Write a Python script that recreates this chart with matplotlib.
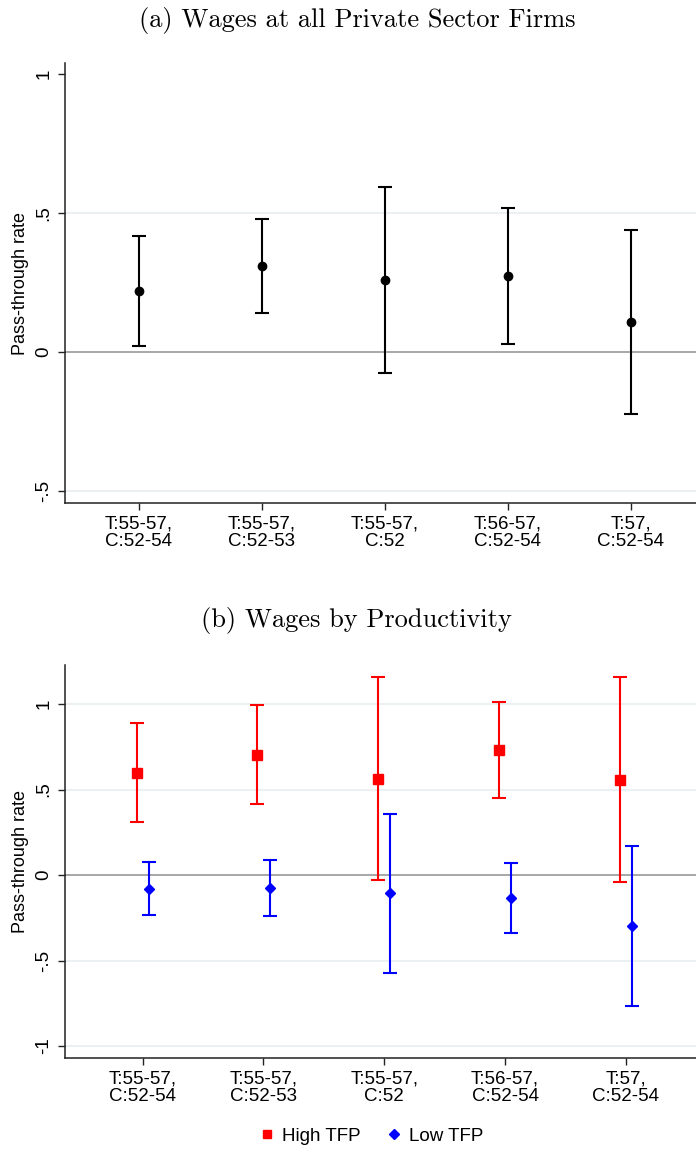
import numpy as np
import matplotlib
matplotlib.use("Agg")
import matplotlib.pyplot as plt
from matplotlib.lines import Line2D

# Category labels (treatment / control years)
categories = ["T:55-57,\nC:52-54", "T:55-57,\nC:52-53", "T:55-57,\nC:52",
              "T:56-57,\nC:52-54", "T:57,\nC:52-54"]

# Panel (a): all private sector firms
all_est = [0.219, 0.309, 0.259, 0.273, 0.108]
all_lo = [0.022, 0.140, -0.074, 0.030, -0.222]
all_hi = [0.417, 0.478, 0.595, 0.518, 0.439]

# Panel (b): by productivity
high_est = [0.596, 0.702, 0.563, 0.733, 0.557]
high_lo = [0.310, 0.415, -0.029, 0.452, -0.039]
high_hi = [0.889, 0.993, 1.160, 1.013, 1.160]

low_est = [-0.080, -0.078, -0.107, -0.136, -0.298]
low_lo = [-0.234, -0.240, -0.573, -0.337, -0.764]
low_hi = [0.076, 0.086, 0.358, 0.068, 0.168]

yticks_a = [-0.5, 0, 0.5, 1]
ylabels_a = ["-.5", "0", ".5", "1"]
yticks_b = [-1, -0.5, 0, 0.5, 1]
ylabels_b = ["-1", "-.5", "0", ".5", "1"]

plt.rcParams["font.family"] = ["Liberation Sans", "DejaVu Sans"]

fig = plt.figure(figsize=(6.96, 11.49), dpi=100)
ax_a = fig.add_axes([0.0934, 0.562, 0.9066, 0.3832])
ax_b = fig.add_axes([0.0934, 0.0792, 0.9066, 0.342])

grid_col = "#e8eff1"
x = np.arange(1, len(categories) + 1)
fs = 13.5


def style_axis(ax, ticks, labels, grid_at):
    for s in ["top", "right"]:
        ax.spines[s].set_visible(False)
    for s in ["left", "bottom"]:
        ax.spines[s].set_linewidth(1.1)
        ax.spines[s].set_color("#222222")
    for g in grid_at:
        ax.axhline(g, color=grid_col, lw=1.2, zorder=0)
    ax.axhline(0, color="#a0a0a0", lw=1.3, zorder=1)
    ax.set_yticks(ticks)
    ax.set_yticklabels(labels, rotation=90, va="center")
    ax.set_xticks(x)
    ax.set_xticklabels(categories, fontsize=fs, linespacing=1.05)
    ax.tick_params(axis="both", direction="out", length=5, width=1, color="#222222")
    ax.tick_params(axis="y", labelsize=fs, pad=4)
    ax.tick_params(axis="x", pad=4)
    ax.set_ylabel("Pass-through rate", fontsize=13, labelpad=5)


# panel (a)
err_a = [np.array(all_est) - np.array(all_lo), np.array(all_hi) - np.array(all_est)]
ax_a.errorbar(x, all_est, yerr=err_a, fmt="o", color="black", ms=6,
              elinewidth=1.5, capsize=5, capthick=1.5, zorder=3)
ax_a.set_xlim(0.402, 5.53)
ax_a.set_ylim(-0.544, 1.04)
style_axis(ax_a, yticks_a, ylabels_a, [0.5, -0.5])

# panel (b)
off = 0.05
err_h = [np.array(high_est) - np.array(high_lo), np.array(high_hi) - np.array(high_est)]
err_l = [np.array(low_est) - np.array(low_lo), np.array(low_hi) - np.array(low_est)]
ax_b.errorbar(x - off, high_est, yerr=err_h, fmt="s", color="#ff0000", ms=6.5,
              elinewidth=1.5, capsize=5, capthick=1.5, zorder=3)
ax_b.errorbar(x + off, low_est, yerr=err_l, fmt="D", color="#0000ff", ms=5.5,
              elinewidth=1.5, capsize=5, capthick=1.5, zorder=3)
ax_b.set_xlim(0.357, 5.58)
ax_b.set_ylim(-1.07, 1.228)
style_axis(ax_b, yticks_b, ylabels_b, [1, 0.5, -0.5, -1])

# panel titles
fig.text(0.514, 1 - 20 / 1149, "(a) Wages at all Private Sector Firms",
         family="cmr10", fontsize=19, ha="center", va="center")
fig.text(0.512, 1 - 620 / 1149, "(b) Wages by Productivity",
         family="cmr10", fontsize=19, ha="center", va="center")

handles = [Line2D([], [], ls="none", marker="s", color="#ff0000", ms=5.5),
           Line2D([], [], ls="none", marker="D", color="#0000ff", ms=5.5)]
fig.legend(handles, ["High TFP", "Low TFP"], loc="center", ncol=2,
           bbox_to_anchor=(0.532, 1 - 1136 / 1149), frameon=False, fontsize=fs,
           handletextpad=0.3, columnspacing=1.3, handlelength=1.0)

fig.savefig("out.png", dpi=100)
